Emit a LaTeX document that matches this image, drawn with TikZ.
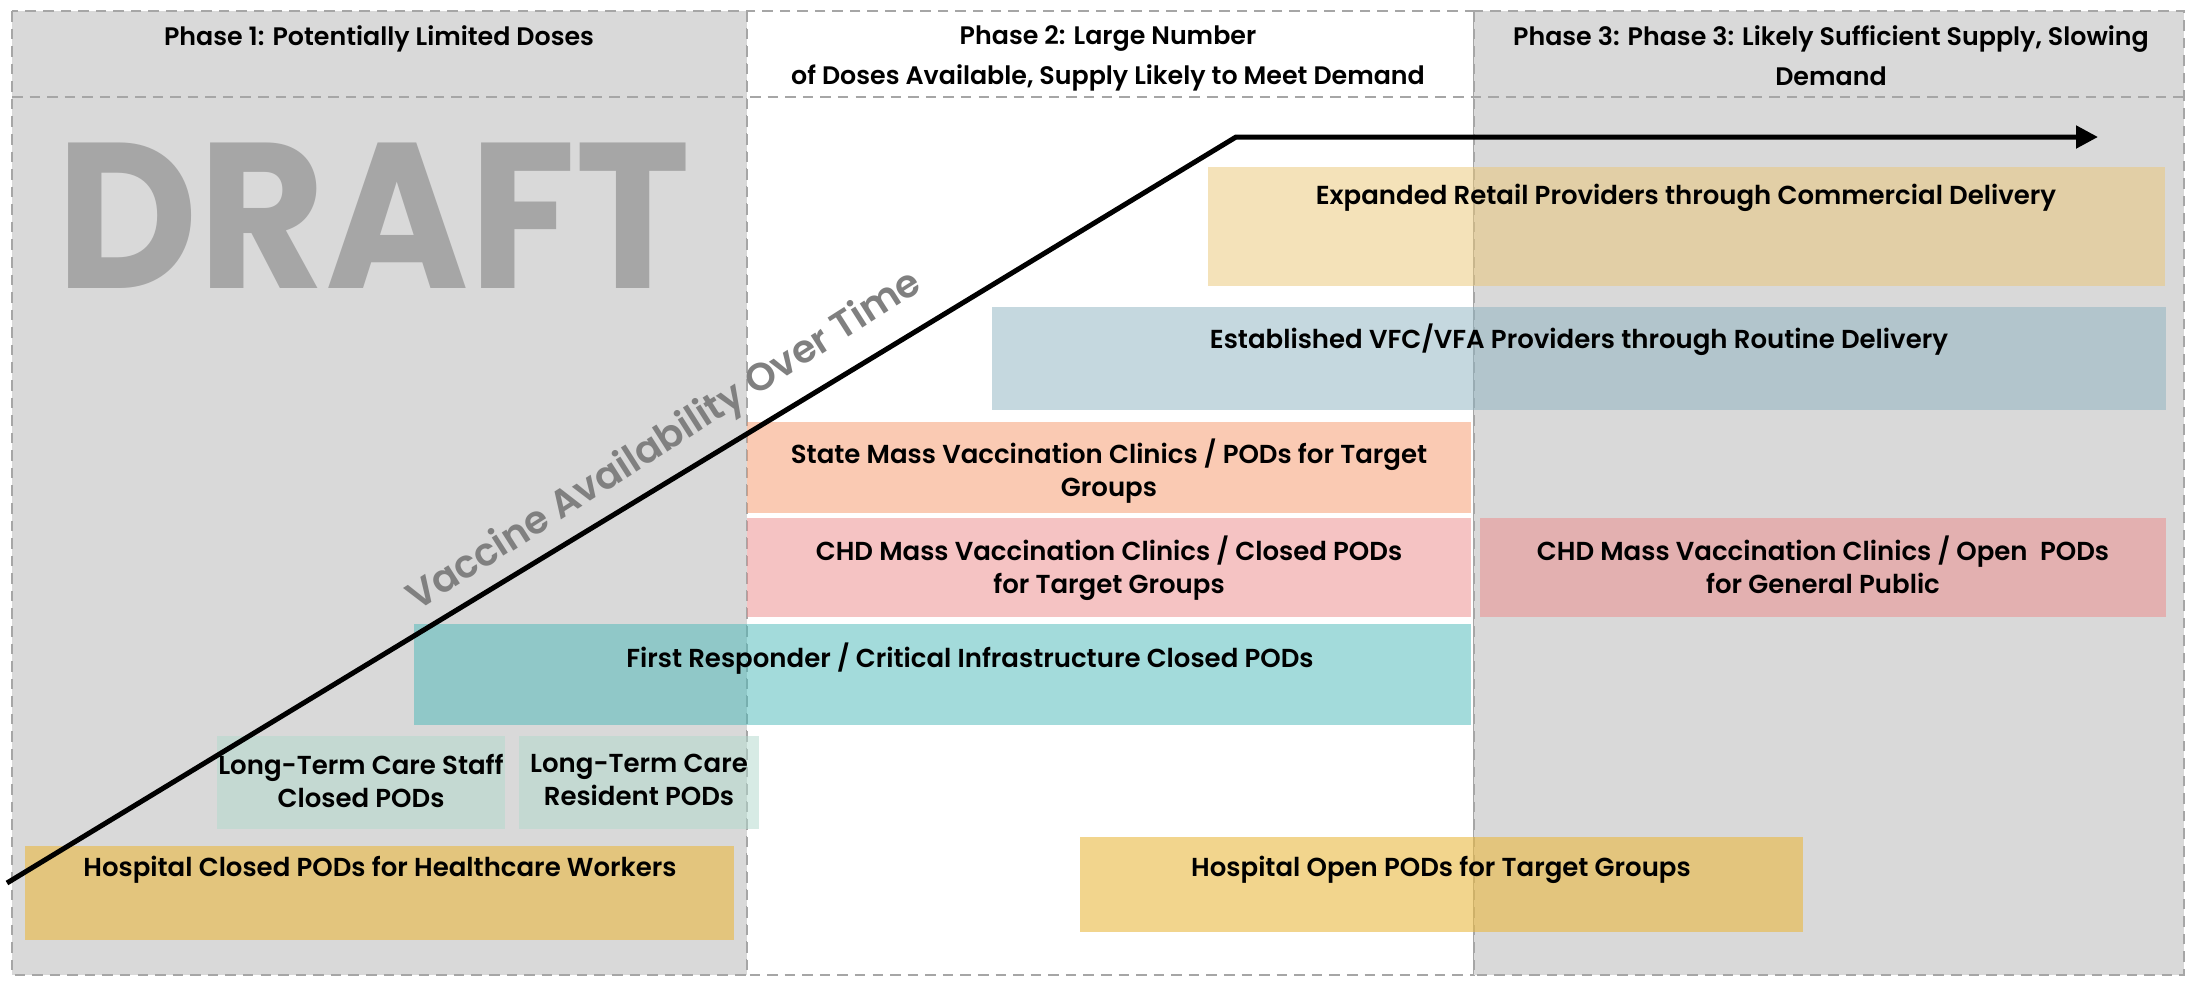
\documentclass[tikz,border=0pt]{standalone}
\usepackage{fontspec}
\setmainfont{Poppins}[UprightFont={* Medium},BoldFont={* SemiBold}]
\newfontfamily\heavyfont{Poppins}[UprightFont={* Bold}]
\usetikzlibrary{arrows.meta}
\definecolor{bandgray}{HTML}{D9D9D9}
\definecolor{retailtan}{HTML}{EBC775}
\definecolor{vfcblue}{HTML}{8DB3C1}
\definecolor{statepeach}{HTML}{F79769}
\definecolor{chdpink}{HTML}{ED8989}
\definecolor{firstteal}{HTML}{49B9B9}
\definecolor{ltcmint}{HTML}{B1D9CD}
\definecolor{hospgold}{HTML}{EAB941}
\begin{document}
\begin{tikzpicture}
      [x=.1mm,y=-.1mm
      ,band/.style={draw=gray!70,densely dashed,line width=.12mm}
      ,pod/.style={fill opacity=.5}
      ,podtxt/.style={font=\fontsize{7.4}{9.4}\selectfont\bfseries,align=center,anchor=north,inner sep=0pt}
      ,phasetxt/.style={font=\fontsize{7.2}{11.3}\selectfont\bfseries,align=center,anchor=north,inner sep=0pt}
      ,trend/.style={line width=.5mm,-{Triangle[length=2.2mm,width=2.2mm]}}
      ]
        \useasboundingbox (0,0) rectangle (2191,980);
        \fill[white] (0,0) rectangle (2191,980);
        % phase bands
        \foreach \xa/\xb/\col in {12/747/bandgray,747/1474/white,1474/2184/bandgray}{
          \draw[band,fill=\col] (\xa,11) rectangle (\xb,975);
        }
        \draw[band] (12,97) -- (2184,97);
        \node[phasetxt] (ph1) at (379,25) {Phase 1: Potentially Limited Doses};
        \node[phasetxt] (ph2) at (1108,25) {Phase 2: Large Number\\of Doses Available, Supply Likely to Meet Demand};
        \node[phasetxt] (ph3) at (1831,25) {Phase 3: Phase 3: Likely Sufficient Supply, Slowing\\Demand};
        \node[font=\fontsize{59}{60}\selectfont\heavyfont,text=black!35,inner sep=0pt] (draft) at (374,216) {\scalebox{.94}[1]{DRAFT}};
        % pods
        \fill[pod,retailtan] (1208,167) rectangle (2165,286);
        \fill[pod,vfcblue] (992,307) rectangle (2166,410);
        \fill[pod,statepeach] (747,422) rectangle (1471,513);
        \fill[pod,chdpink] (747,518) rectangle (1471,617);
        \fill[pod,chdpink] (1480,518) rectangle (2166,617);
        \fill[pod,firstteal] (414,624) rectangle (1471,725);
        \fill[pod,ltcmint] (217,736) rectangle (505,829);
        \fill[pod,ltcmint] (519,736) rectangle (759,829);
        \fill[pod,hospgold,fill opacity=.6] (25,846) rectangle (734,940);
        \fill[pod,hospgold,fill opacity=.6] (1080,837) rectangle (1803,932);
        \node[podtxt] (retail) at (1686,183) {Expanded Retail Providers through Commercial Delivery};
        \node[podtxt] (vfc) at (1579,323) {Established VFC/VFA Providers through Routine Delivery};
        \node[podtxt] (state) at (1109,438) {State Mass Vaccination Clinics / PODs for Target\\Groups};
        \node[podtxt] (chdclosed) at (1109,535) {CHD Mass Vaccination Clinics / Closed PODs\\for Target Groups};
        \node[podtxt] (chdopen) at (1823,535) {CHD Mass Vaccination Clinics / Open\ \ PODs\\for General Public};
        \node[podtxt] (first) at (970,642) {First Responder / Critical Infrastructure Closed PODs};
        \node[podtxt] (ltcstaff) at (361,753) {Long-Term Care Staff\\Closed PODs};
        \node[podtxt] (ltcres) at (639,753) {Long-Term Care\\Resident PODs};
        \node[podtxt] (hospclosed) at (380,855) {Hospital Closed PODs for Healthcare Workers};
        \node[podtxt] (hospopen) at (1441,855) {Hospital Open PODs for Target Groups};
        % availability arrow
        \coordinate (t0) at (7,883);
        \coordinate (t1) at (1236,137);
        \coordinate (t2) at (2098,137);
        \draw[trend] (t0) -- (t1) -- (t2);
        \node[rotate=32.5,inner sep=0pt,text=black!50,font=\fontsize{11}{12}\selectfont\bfseries] (trendlbl) at (665,442) {Vaccine Availability Over Time};
      \end{tikzpicture}
\end{document}
